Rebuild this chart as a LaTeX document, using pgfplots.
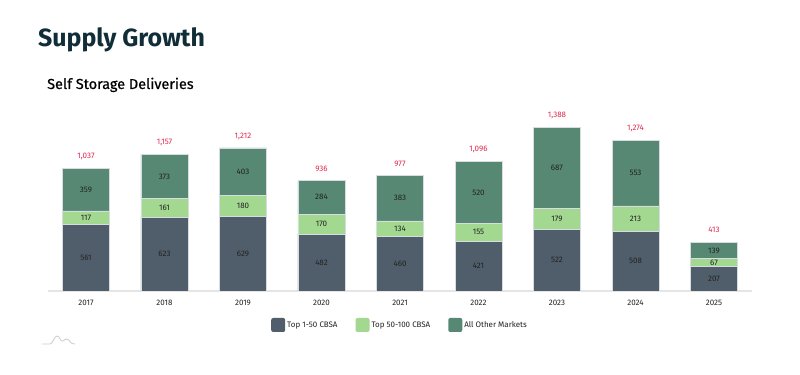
\documentclass[border=0pt]{standalone}
\usepackage{pgfplots}
\usepackage{pgfplotstable}
\pgfplotsset{compat=1.18}
\usepackage{fontspec}
\setmainfont{Fira Sans}
\newfontfamily\subfont[FakeBold=0.6]{Fira Sans}
\definecolor{cDark}{HTML}{505E6B}
\definecolor{cLight}{HTML}{A3D890}
\definecolor{cTeal}{HTML}{568874}
\definecolor{cRed}{HTML}{E0294F}
\definecolor{cTitle}{HTML}{112E38}
\definecolor{cText}{HTML}{222222}
\definecolor{cEdge}{HTML}{D6DCE0}
\pgfplotstableread{
x a b c t
0 561 117 359 1037
1 623 161 373 1157
2 629 180 403 1212
3 482 170 284 936
4 460 134 383 977
5 421 155 520 1096
6 522 179 687 1388
7 508 213 553 1274
8 207 67 139 413
}\data
\begin{document}
\begin{tikzpicture}
\path[use as bounding box, fill=white] (0,0) rectangle (800bp,375bp);
\node[anchor=base west, font=\fontsize{25}{28}\selectfont\bfseries, text=cTitle, inner sep=0] at (38bp,328bp) {Supply Growth};
\node[anchor=base west, font=\fontsize{14.5}{16}\selectfont\subfont, text=black, inner sep=0] at (47bp,286bp) {Self Storage Deliveries};
% small logo
\draw[gray!40, line width=0.8bp] (42bp,31bp) -- (50bp,31bp) .. controls (53bp,31bp) and (54bp,39bp) .. (57bp,39bp) .. controls (60bp,39bp) and (60bp,33bp) .. (63bp,34bp) .. controls (65bp,36bp) and (67bp,37bp) .. (69bp,35bp) .. controls (70bp,33bp) and (71bp,31bp) .. (75bp,31bp);
\begin{axis}[
  at={(48bp,84bp)}, anchor=south west,
  scale only axis, width=704bp, height=188.8bp,
  xmin=-0.484, xmax=8.484, ymin=0, ymax=1600,
  ybar stacked, bar width=47bp,
  axis x line=bottom, axis y line=none,
  x axis line style={draw=black!10, line width=1.5bp, -},
  xtick={0,...,8}, xticklabels={2017,2018,2019,2020,2021,2022,2023,2024,2025},
  major tick length=0pt,
  xticklabel style={font=\fontsize{8}{9}\selectfont, text=cText, yshift=-6bp},
  legend style={at={(0.5,-0.18)}, anchor=center, draw=none, legend columns=3,
    font=\fontsize{8}{9}\selectfont, text=cText,
    /tikz/every even column/.append style={column sep=16bp}},
  legend image code/.code={\draw[#1, draw=none, rounded corners=2bp] (0bp,-7bp) rectangle (14bp,7bp);},
]
\addplot[fill=cDark, draw=cEdge, line width=0.7bp] table[x=x, y=a] {\data};
\addplot[fill=cLight, draw=cEdge, line width=0.7bp] table[x=x, y=b] {\data};
\addplot[fill=cTeal, draw=cEdge, line width=0.7bp] table[x=x, y=c] {\data};
\legend{Top 1-50 CBSA, Top 50-100 CBSA, All Other Markets}
\end{axis}
\begin{axis}[
  at={(48bp,84bp)}, anchor=south west,
  scale only axis, width=704bp, height=188.8bp,
  xmin=-0.484, xmax=8.484, ymin=0, ymax=1600,
  hide axis,
  /pgf/number format/assume math mode=true,
  nodes near coords,
  point meta=explicit,
  every node near coord/.style={anchor=center, font=\fontsize{8}{9}\selectfont, text=cText, inner sep=0pt},
]
\addplot[draw=none, mark=none] table[x=x, y expr=\thisrow{a}/2, meta=a] {\data};
\addplot[draw=none, mark=none] table[x=x, y expr=\thisrow{a}+\thisrow{b}/2, meta=b] {\data};
\addplot[draw=none, mark=none] table[x=x, y expr=\thisrow{a}+\thisrow{b}+\thisrow{c}/2, meta=c] {\data};
\addplot[draw=none, mark=none, every node near coord/.append style={text=cRed, yshift=12bp}] table[x=x, y=t, meta=t] {\data};
\end{axis}
\end{tikzpicture}
\end{document}
